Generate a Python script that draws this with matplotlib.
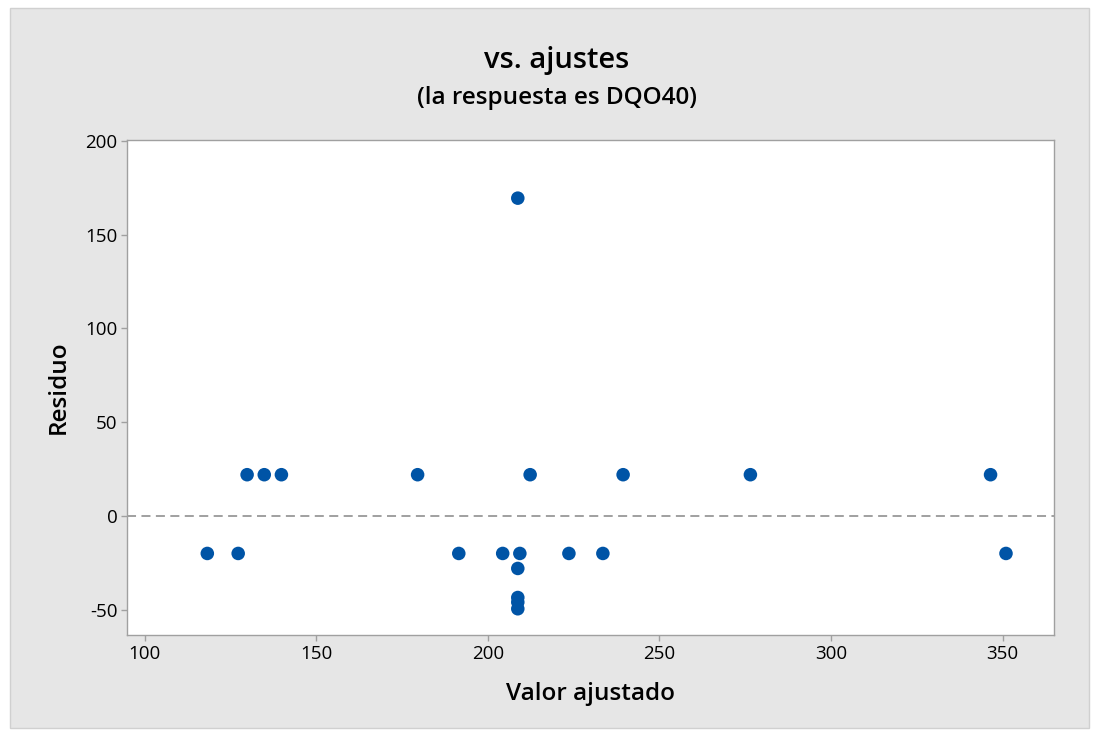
import matplotlib.pyplot as plt
from matplotlib.patches import Rectangle

# ── Data ──────────────────────────────────────────────────
ajustado = [118.2, 127.2, 129.8, 134.8, 139.8, 179.5, 191.5, 204.3,
            208.7, 209.3, 208.7, 208.7, 208.7, 208.7, 212.3, 223.6,
            233.5, 239.4, 276.5, 346.5, 351.0]
residuo = [-20, -20, 22, 22, 22, 22, -20, -20,
           169.5, -20, -28, -43.5, -46, -49.5, 22, -20,
           -20, 22, 22, 22, -20]

BLUE = '#0054A6'
PANEL = '#E6E6E6'
SPINE = '#A0A0A0'

plt.rcParams['font.family'] = ['Open Sans', 'DejaVu Sans']
plt.rcParams['axes.unicode_minus'] = False

fig = plt.figure(figsize=(10.96, 7.32), dpi=100, facecolor='white')
fig.add_artist(Rectangle((0.009, 0.006), 0.985, 0.983, transform=fig.transFigure,
                         facecolor=PANEL, edgecolor='#D0D0D0', linewidth=1, zorder=-10))

ax = fig.add_axes([0.1159, 0.1325, 0.8458, 0.6762])
ax.set_facecolor('white')
ax.scatter(ajustado, residuo, s=95, color=BLUE, edgecolors='none', zorder=3)
ax.axhline(0, color='#999999', linestyle=(0, (5, 3)), linewidth=1.3, zorder=2)

ax.set_xlim(94.8, 365)
ax.set_ylim(-63.5, 200.5)
ax.set_xticks([100, 150, 200, 250, 300, 350])
ax.set_yticks([-50, 0, 50, 100, 150, 200])

for s in ax.spines.values():
    s.set_color(SPINE)
    s.set_linewidth(1)
ax.tick_params(direction='out', length=4, width=1, color=SPINE,
               labelsize=13.5, labelcolor='black', pad=3)

ax.set_xlabel('Valor ajustado', fontsize=17.5, fontweight='semibold', labelpad=14)
ax.set_ylabel('Residuo', fontsize=17.5, fontweight='semibold', labelpad=10)

fig.text(0.508, 0.918, 'vs. ajustes', ha='center', va='center',
         fontsize=21, fontweight='semibold')
fig.text(0.508, 0.866, '(la respuesta es DQO40)', ha='center', va='center',
         fontsize=17.5, fontweight='semibold')

fig.savefig('out.png', dpi=100, facecolor='white')
